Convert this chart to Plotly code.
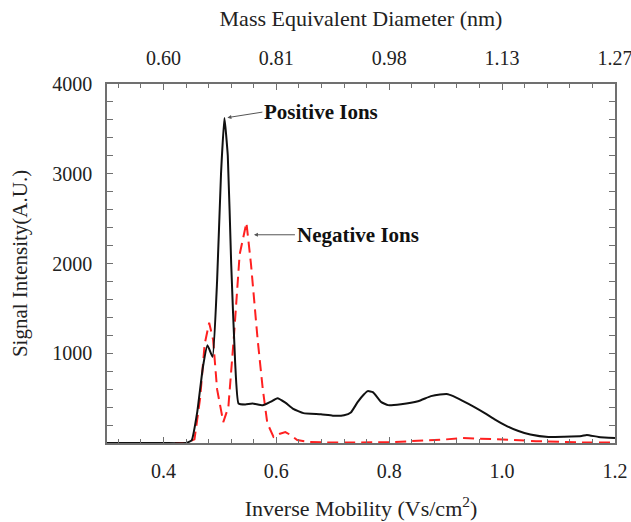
import plotly.graph_objects as go

# Positive ions (black solid)
pos_x = [0.30, 0.35, 0.40, 0.44, 0.45, 0.46, 0.47, 0.478, 0.487, 0.495, 0.502, 0.508, 0.514, 0.52, 0.527, 0.533,
         0.545, 0.558, 0.576, 0.59, 0.602, 0.616, 0.63, 0.648, 0.679, 0.70, 0.72, 0.732, 0.744, 0.755, 0.762,
         0.771, 0.78, 0.786, 0.798, 0.821, 0.851, 0.874, 0.89, 0.904, 0.91, 0.93, 0.951, 0.97, 0.986, 1.005,
         1.029, 1.05, 1.082, 1.11, 1.141, 1.15, 1.171, 1.20]
pos_y = [0, 0, 0, 0, 30, 350, 850, 1090, 960, 1800, 3000, 3620, 3200, 2000, 900, 440,
         430, 440, 420, 460, 500, 450, 380, 333, 320, 305, 310, 340, 455, 540, 578,
         566, 500, 455, 422, 433, 466, 522, 540, 544, 530, 470, 400, 330, 267, 200,
         133, 95, 67, 70, 78, 90, 67, 56]

# Negative ions (red dashed)
neg_x = [0.30, 0.35, 0.40, 0.44, 0.455, 0.465, 0.473, 0.481, 0.488, 0.495, 0.506, 0.515, 0.525, 0.535,
         0.547, 0.555, 0.567, 0.576, 0.584, 0.595, 0.605, 0.616, 0.625, 0.637, 0.66, 0.70, 0.80, 0.85,
         0.90, 0.93, 0.96, 0.99, 1.02, 1.06, 1.10, 1.15, 1.20]
neg_y = [0, 0, 0, 0, 40, 500, 1100, 1340, 1150, 600, 233, 400, 1200, 2100,
         2455, 2000, 1144, 600, 222, 67, 100, 122, 90, 33, 10, 5, 8, 20,
         40, 55, 50, 45, 35, 20, 10, 5, 5]

top_tickvals = [0.4, 0.6, 0.8, 1.0, 1.2]
top_ticktext = ["0.60", "0.81", "0.98", "1.13", "1.27"]

FONT = "Liberation Serif, Times New Roman, serif"
AX = "#707070"

fig = go.Figure()
fig.add_trace(go.Scatter(x=neg_x, y=neg_y, mode="lines",
                         line=dict(color="#ff2020", width=2, dash="11px,6px"),
                         showlegend=False))
fig.add_trace(go.Scatter(x=pos_x, y=pos_y, mode="lines",
                         line=dict(color="#111111", width=2, shape="spline", smoothing=0.4),
                         showlegend=False))
# dummy trace for top axis
fig.add_trace(go.Scatter(x=[0.4], y=[0], xaxis="x2", mode="markers",
                         marker=dict(opacity=0), showlegend=False, hoverinfo="skip"))

fig.update_layout(
    width=631, height=522,
    margin=dict(l=107, r=16, t=84, b=79),
    paper_bgcolor="white", plot_bgcolor="white",
    font=dict(family=FONT, size=20, color="#222222"),
    xaxis=dict(range=[0.3, 1.2], tickvals=[0.4, 0.6, 0.8, 1.0, 1.2], ticktext=["0.4", "0.6", "0.8", "1.0", "1.2"],
               ticks="inside", ticklen=6, tickcolor=AX, showline=True, linecolor=AX, linewidth=1.5,
               mirror="allticks", showgrid=False, zeroline=False, automargin=False,
               ticklabeloverflow="allow",
               minor=dict(tickvals=[round(0.32 + 0.04 * i, 2) for i in range(23)], ticks="inside", ticklen=4, tickcolor=AX),
               title=dict(text="Inverse Mobility (Vs/cm<sup>2</sup>)", standoff=20, font=dict(size=22)),
               ticklabelstandoff=9),
    xaxis2=dict(range=[0.3, 1.2], overlaying="x", side="top", tickvals=top_tickvals, ticktext=top_ticktext,
                ticks="", showgrid=False, zeroline=False, showline=False, automargin=False,
                ticklabeloverflow="allow",
                title=dict(text="Mass Equivalent Diameter (nm)", standoff=14, font=dict(size=22)),
                ticklabelstandoff=14),
    yaxis=dict(range=[0, 4000], tickvals=[1000, 2000, 3000, 4000], ticks="inside", ticklen=6, tickcolor=AX,
               showline=True, linecolor=AX, linewidth=1.5, mirror="allticks", showgrid=False, zeroline=False,
               automargin=False,
               minor=dict(dtick=200, ticks="inside", ticklen=4, tickcolor=AX),
               title=dict(text="Signal Intensity(A.U.)", standoff=19, font=dict(size=21)),
               ticklabelstandoff=9),
    annotations=[
        dict(x=0.508, y=3620, xref="x", yref="y", text="<b>Positive Ions</b>", showarrow=True,
             ax=38, ay=-6, axref="pixel", ayref="pixel", xanchor="left", arrowhead=2, arrowsize=0.8,
             arrowwidth=1, arrowcolor="#555555", font=dict(size=21, color="#111111"), standoff=3),
        dict(x=0.555, y=2320, xref="x", yref="y", text="<b>Negative Ions</b>", showarrow=True,
             ax=44, ay=0, axref="pixel", ayref="pixel", xanchor="left", arrowhead=2, arrowsize=0.8,
             arrowwidth=1, arrowcolor="#555555", font=dict(size=21, color="#111111"), standoff=3),
    ],
)

fig.write_html("out.html")
